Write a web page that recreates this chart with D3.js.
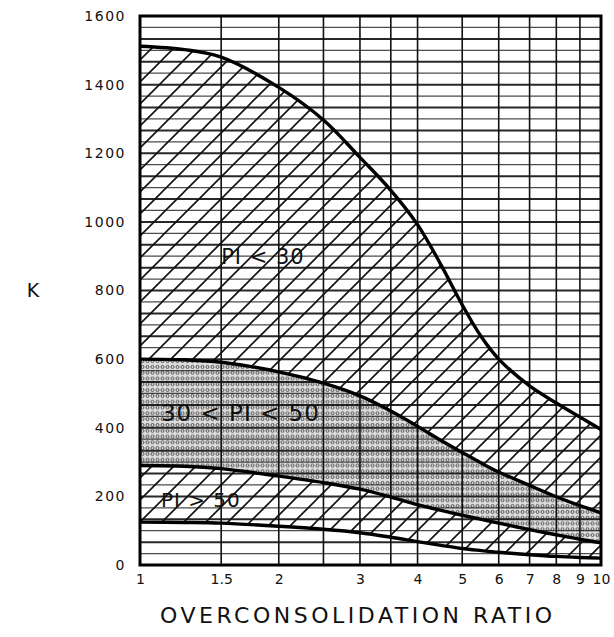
<!DOCTYPE html>
<html>
<head>
<meta charset="utf-8">
<script src="https://cdn.jsdelivr.net/npm/d3@7"></script>
<style>
  body { margin: 0; background: #fff; }
  text { font-family: "DejaVu Sans", sans-serif; fill: #111; }
</style>
</head>
<body>
<div id="viz"></div>
<script>
// data
var ocr = [1, 1.25, 1.5, 2, 2.5, 3, 3.5, 4, 4.5, 5, 5.5, 6, 7, 8, 9, 10];
var upperK  = [1512, 1502, 1480, 1392, 1297, 1188, 1092, 992, 874, 758, 665, 600, 522, 472, 431, 395];
var middleK = [600, 598, 591, 563, 530, 493, 449, 404, 363, 328, 297, 271, 232, 199, 173, 152];
var lowerK  = [290, 288, 281, 259, 240, 221, 198, 176, 159, 145, 133, 122, 103, 88, 75, 65];
var bottomK = [125, 124, 122, 113, 104, 94, 81, 68, 57, 48, 42, 37, 30, 25, 22, 20];

var xTicks = [1, 1.5, 2, 3, 4, 5, 6, 7, 8, 9, 10];
var xGrid = [1, 1.5, 2, 2.5, 3, 3.5, 4, 5, 6, 7, 8, 9, 10];
var yTicks = [0, 200, 400, 600, 800, 1000, 1200, 1400, 1600];

var zoneLabels = [
  {text: "PI < 30", x: 1.5, k: 898, size: 21},
  {text: "30 < PI < 50", x: 1.11, k: 443, size: 23},
  {text: "PI > 50", x: 1.11, k: 189, size: 20}
];

// set the dimensions and margins
var W = 614, H = 637;
var margin = {top: 16, right: 13, bottom: 72, left: 140},
    width = W - margin.left - margin.right,
    height = H - margin.top - margin.bottom;

var svg = d3.select("#viz").append("svg")
  .attr("width", W).attr("height", H)
  .style("background", "#fff");

var defs = svg.append("defs");

// diagonal hatch
var hatch = defs.append("pattern")
  .attr("id", "hatch")
  .attr("patternUnits", "userSpaceOnUse")
  .attr("width", 22).attr("height", 22);
hatch.append("path")
  .attr("d", "M-2,2 L2,-2 M0,22 L22,0 M20,24 L24,20")
  .attr("stroke", "#111").attr("stroke-width", 1.6);

// stipple dots
var dots = defs.append("pattern")
  .attr("id", "dots")
  .attr("patternUnits", "userSpaceOnUse")
  .attr("width", 5).attr("height", 5.8);
dots.append("circle")
  .attr("cx", 2.5).attr("cy", 2.9).attr("r", 1.5)
  .attr("fill", "none").attr("stroke", "#444").attr("stroke-width", 0.9);

var g = svg.append("g")
  .attr("transform", "translate(" + margin.left + "," + margin.top + ")");

var x = d3.scaleLog().domain([1, 10]).range([0, width]);
var y = d3.scaleLinear().domain([0, 1600]).range([height, 0]);

var pts = function(ks) { return ocr.map(function(o, i) { return [o, ks[i]]; }); };

function band(top, bot) {
  var data = ocr.map(function(o, i) { return {x: o, y0: bot[i], y1: top[i]}; });
  return d3.area()
    .x(function(d) { return x(d.x); })
    .y0(function(d) { return y(d.y0); })
    .y1(function(d) { return y(d.y1); })
    .curve(d3.curveCatmullRom)(data);
}

// filled zones
g.append("path").attr("d", band(upperK, middleK)).attr("fill", "url(#hatch)");
g.append("path").attr("d", band(middleK, lowerK)).attr("fill", "#dcdcdc");
g.append("path").attr("d", band(middleK, lowerK)).attr("fill", "url(#dots)");
g.append("path").attr("d", band(lowerK, bottomK)).attr("fill", "url(#hatch)");

// horizontal grid of the graph paper
d3.range(0, 1600, 100 / 3).forEach(function(v, i) {
  g.append("line")
    .attr("x1", 0).attr("x2", width)
    .attr("y1", y(v)).attr("y2", y(v))
    .attr("stroke", "#111")
    .attr("stroke-width", i % 2 === 0 ? 2 : 1.3)
    .attr("opacity", i % 2 === 0 ? 0.9 : 0.75);
});

// vertical grid
xGrid.forEach(function(v) {
  g.append("line")
    .attr("x1", x(v)).attr("x2", x(v))
    .attr("y1", 0).attr("y2", height)
    .attr("stroke", "#111").attr("stroke-width", 1.6);
});

// curves
var line = d3.line()
  .x(function(d) { return x(d[0]); })
  .y(function(d) { return y(d[1]); })
  .curve(d3.curveCatmullRom);

[upperK, middleK, lowerK, bottomK].forEach(function(ks) {
  g.append("path").datum(pts(ks))
    .attr("d", line)
    .attr("fill", "none")
    .attr("stroke", "#000")
    .attr("stroke-width", 3.4);
});

// frame
g.append("rect")
  .attr("width", width).attr("height", height)
  .attr("fill", "none").attr("stroke", "#000").attr("stroke-width", 3);

// zone labels
zoneLabels.forEach(function(l) {
  g.append("text")
    .attr("x", x(l.x)).attr("y", y(l.k))
    .attr("dy", "0.35em")
    .attr("font-size", l.size)
    .attr("letter-spacing", 1)
    .attr("text-anchor", "start")
    .text(l.text);
});

// axes
var xAxis = g.append("g")
  .attr("transform", "translate(0," + height + ")")
  .call(d3.axisBottom(x).tickValues(xTicks).tickSize(0).tickPadding(9)
    .tickFormat(function(d) { return String(d); }));
xAxis.select(".domain").remove();
xAxis.selectAll("text").attr("font-size", 14).style("font-family", "DejaVu Sans, sans-serif").attr("fill", "#111");

var yAxis = g.append("g")
  .call(d3.axisLeft(y).tickValues(yTicks).tickSize(0).tickPadding(14)
    .tickFormat(d3.format("d")));
yAxis.select(".domain").remove();
yAxis.selectAll("text").attr("font-size", 14).attr("letter-spacing", 1.5)
  .style("font-family", "DejaVu Sans, sans-serif").attr("fill", "#111");

// axis titles
svg.append("text")
  .attr("x", 33).attr("y", margin.top + y(800))
  .attr("dy", "0.35em")
  .attr("text-anchor", "middle")
  .attr("font-size", 19)
  .text("K");

svg.append("text")
  .attr("x", 160).attr("y", 623)
  .attr("font-size", 22)
  .attr("textLength", 392)
  .attr("lengthAdjust", "spacing")
  .text("OVERCONSOLIDATION RATIO");
</script>
</body>
</html>
